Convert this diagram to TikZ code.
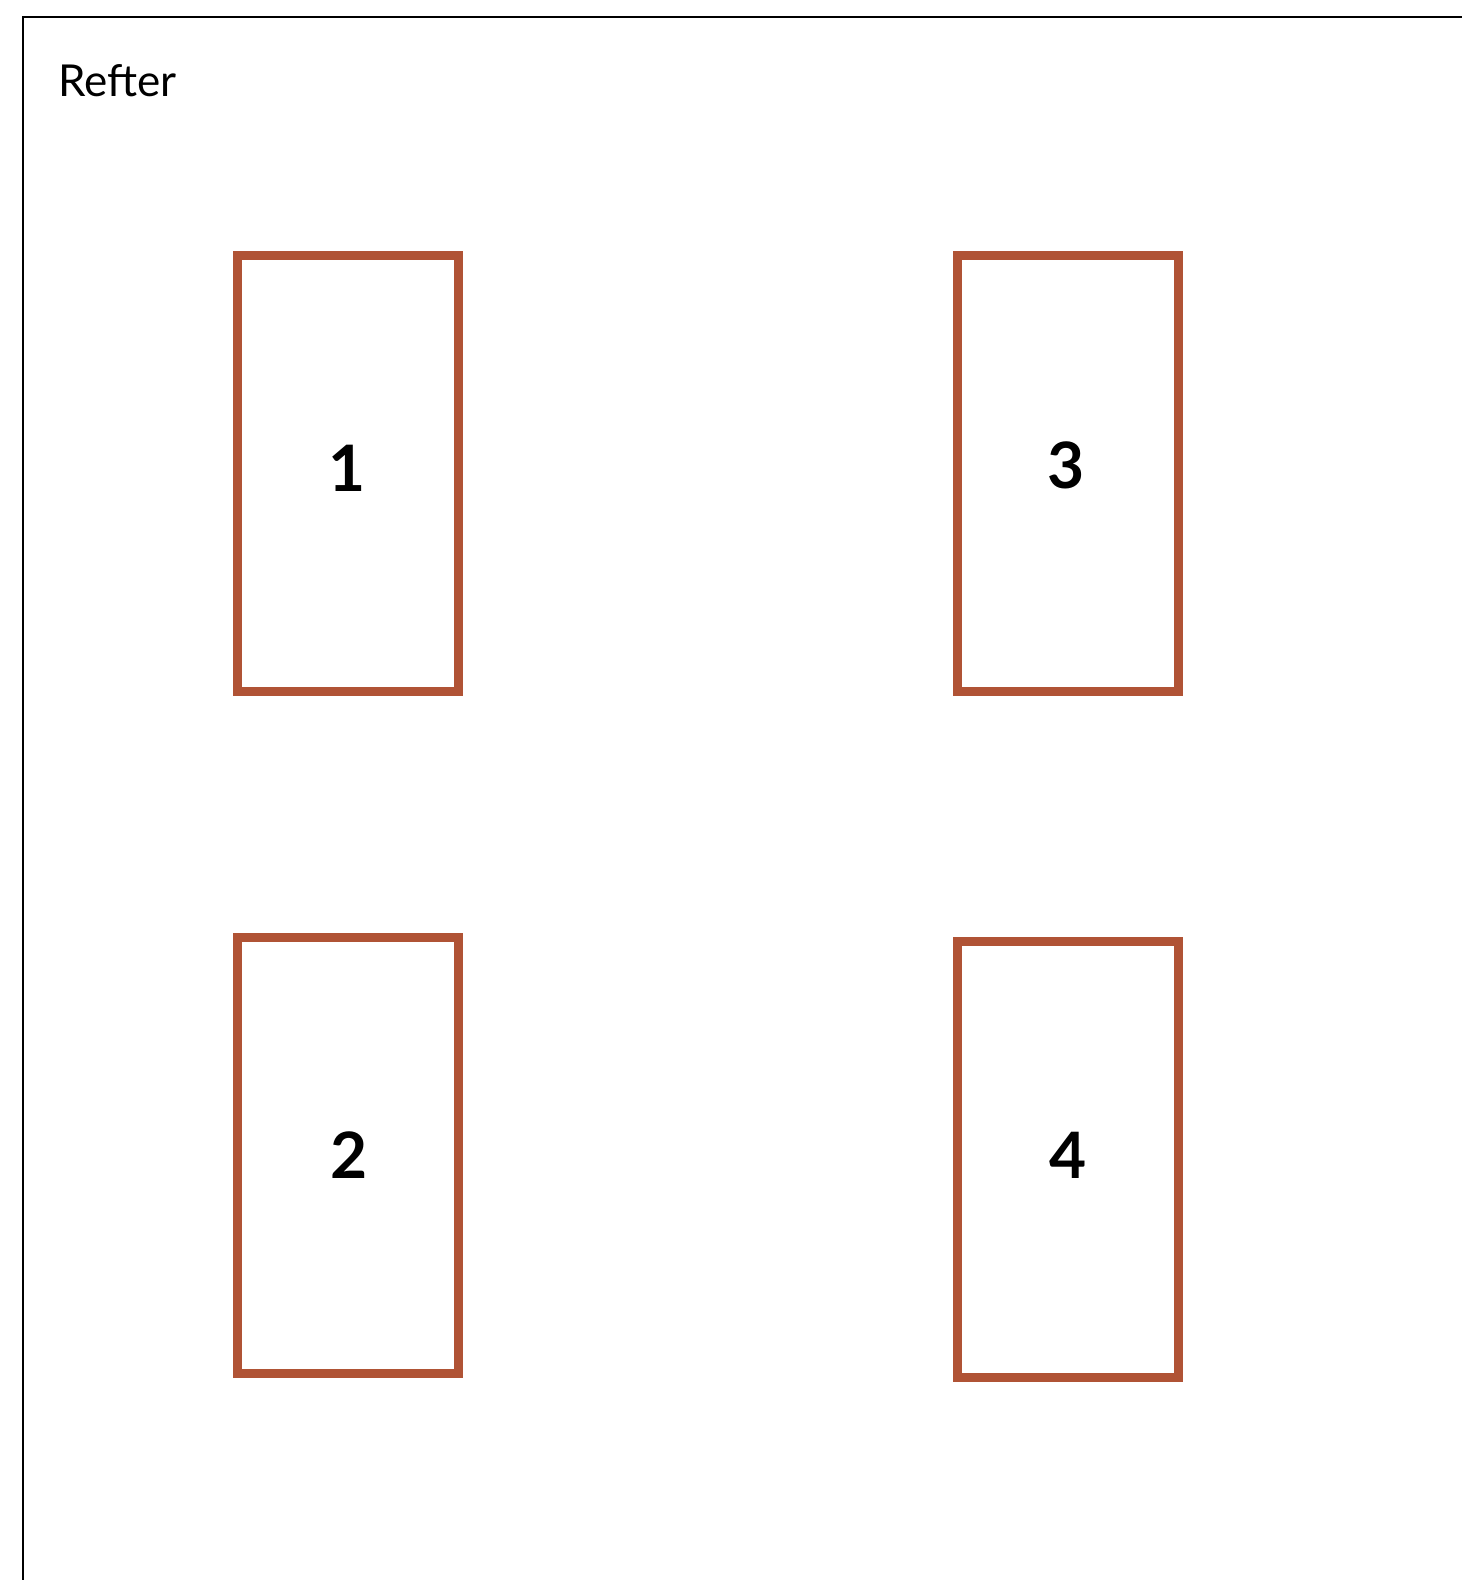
\documentclass[tikz,border=0pt]{standalone}
\usepackage{fontspec}
\setmainfont{Lato}
\definecolor{tablerust}{RGB}{176,83,53}
\begin{document}
\begin{tikzpicture}[x=0.5pt,y=-0.5pt,
  tablebox/.style={draw=tablerust,line width=4.5pt,minimum width=110.5pt,minimum height=218pt,inner sep=0pt},
  tablenum/.style={font=\fontsize{32}{32}\selectfont\bfseries,inner sep=0pt}]
\useasboundingbox (0,0) rectangle (1462,1580);
% room outline
\draw[line width=1.1pt] (23,1580) -- (23,17) -- (1462,17);
\node[anchor=base west,inner sep=0pt,font=\fontsize{22}{22}\selectfont] (title) at (58,96) {Refter};
% tables
\node[tablebox] (t1) at (348,473.5) {};
\node[tablebox] (t3) at (1067.5,473.5) {};
\node[tablebox] (t2) at (347.5,1155.5) {};
\node[tablebox] (t4) at (1067.5,1159.5) {};
% numbers
\node[tablenum] (n1) at (347,468) {1};
\node[tablenum] (n3) at (1066,465.5) {3};
\node[tablenum] (n2) at (349.5,1155.5) {2};
\node[tablenum] (n4) at (1068,1155.5) {4};
\end{tikzpicture}
\end{document}
